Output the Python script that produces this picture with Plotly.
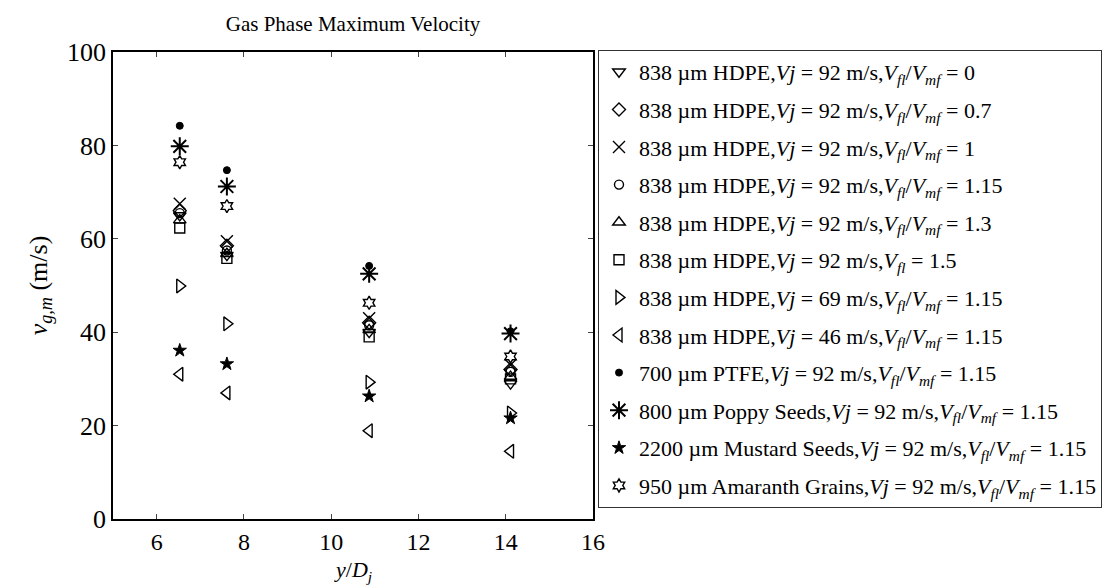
import plotly.graph_objects as go

x_pos = [6.53, 7.61, 10.87, 14.11]

names = [
    "838 µm HDPE,<i>Vj</i> = 92 m/s,<i>V<sub>fl</sub></i>/<i>V<sub>mf</sub></i> = 0",
    "838 µm HDPE,<i>Vj</i> = 92 m/s,<i>V<sub>fl</sub></i>/<i>V<sub>mf</sub></i> = 0.7",
    "838 µm HDPE,<i>Vj</i> = 92 m/s,<i>V<sub>fl</sub></i>/<i>V<sub>mf</sub></i> = 1",
    "838 µm HDPE,<i>Vj</i> = 92 m/s,<i>V<sub>fl</sub></i>/<i>V<sub>mf</sub></i> = 1.15",
    "838 µm HDPE,<i>Vj</i> = 92 m/s,<i>V<sub>fl</sub></i>/<i>V<sub>mf</sub></i> = 1.3",
    "838 µm HDPE,<i>Vj</i> = 92 m/s,<i>V<sub>fl</sub></i> = 1.5",
    "838 µm HDPE,<i>Vj</i> = 69 m/s,<i>V<sub>fl</sub></i>/<i>V<sub>mf</sub></i> = 1.15",
    "838 µm HDPE,<i>Vj</i> = 46 m/s,<i>V<sub>fl</sub></i>/<i>V<sub>mf</sub></i> = 1.15",
    "700 µm PTFE,<i>Vj</i> = 92 m/s,<i>V<sub>fl</sub></i>/<i>V<sub>mf</sub></i> = 1.15",
    "800 µm Poppy Seeds,<i>Vj</i> = 92 m/s,<i>V<sub>fl</sub></i>/<i>V<sub>mf</sub></i> = 1.15",
    "2200 µm Mustard Seeds,<i>Vj</i> = 92 m/s,<i>V<sub>fl</sub></i>/<i>V<sub>mf</sub></i> = 1.15",
    "950 µm Amaranth Grains,<i>Vj</i> = 92 m/s,<i>V<sub>fl</sub></i>/<i>V<sub>mf</sub></i> = 1.15",
]

hdpe92_0 = [65.0, 56.5, 40.0, 29.0]
hdpe92_07 = [66.0, 58.5, 42.0, 32.0]
hdpe92_1 = [67.5, 59.5, 43.0, 33.0]
hdpe92_115 = [65.5, 57.5, 41.5, 31.5]
hdpe92_13 = [64.0, 56.8, 40.5, 30.5]
hdpe92_15 = [62.3, 55.8, 39.0, 30.0]
hdpe69_115 = [49.9, 41.8, 29.3, 22.7]
hdpe46_115 = [31.0, 27.0, 18.9, 14.5]
ptfe = [84.2, 74.7, 54.2, 40.2]
poppy = [79.8, 71.2, 52.5, 39.7]
mustard = [36.1, 33.2, 26.3, 21.6]
amaranth = [76.4, 67.0, 46.3, 34.8]

series = [hdpe92_0, hdpe92_07, hdpe92_1, hdpe92_115, hdpe92_13, hdpe92_15,
          hdpe69_115, hdpe46_115, ptfe, poppy, mustard, amaranth]

symbols = ["triangle-down-open", "diamond-open", "x-thin-open", "circle-open",
           "triangle-up-open", "square-open", "triangle-right-open", "triangle-left-open",
           "circle", "asterisk-open", "star", "hexagram-open"]
sizes = [11, 10, 12, 9, 11, 10, 12, 12, 7, 15, 10, 10]
widths = [1.4, 1.4, 1.4, 1.4, 1.4, 1.4, 1.4, 1.4, 1.0, 2.0, 1.0, 1.4]

fig = go.Figure()
for i, (nm, ys) in enumerate(zip(names, series)):
    fig.add_trace(go.Scatter(
        x=x_pos, y=ys, mode="markers", name=nm, legendgroup=str(i),
        marker=dict(symbol=symbols[i], size=sizes[i], color="black",
                    line=dict(color="black", width=widths[i])),
    ))

font_family = "Liberation Serif, Times New Roman, serif"

fig.update_layout(
    width=1111, height=588,
    paper_bgcolor="white", plot_bgcolor="white",
    margin=dict(l=105, r=526, t=44, b=77),
    font=dict(family=font_family, color="black"),
    title=dict(text="Gas Phase Maximum Velocity", x=345 / 1111, xanchor="center",
               y=1 - 16 / 588, yanchor="middle", font=dict(size=21, family=font_family)),
    showlegend=True,
    legend=dict(x=(590 - 105) / 480, xanchor="left", y=(511 - 42) / 467, yanchor="top",
                bordercolor="#333333", borderwidth=1, bgcolor="white",
                font=dict(size=22, family=font_family), tracegroupgap=6,
                itemwidth=30, maxheight=560),
    annotations=[dict(text="<i>y</i>/<i>D<sub>j</sub></i>", xref="paper", yref="paper",
                      x=0.5, y=(511 - 547) / 467, xanchor="center", yanchor="top",
                      showarrow=False, font=dict(size=22, family=font_family))],
)

fig.update_xaxes(range=[5, 16], tickvals=[6, 8, 10, 12, 14, 16], ticks="inside", ticklen=5,
                 showline=True, linecolor="black", linewidth=1.5, mirror="ticks",
                 showgrid=False, zeroline=False, tickfont=dict(size=24, family=font_family))
fig.update_yaxes(range=[0, 100], tickvals=[0, 20, 40, 60, 80, 100], ticks="inside", ticklen=5,
                 showline=True, linecolor="black", linewidth=1.5, mirror="ticks",
                 showgrid=False, zeroline=False, tickfont=dict(size=26, family=font_family),
                 title=dict(text="<i>v<sub>g,m</sub></i> (m/s)", font=dict(size=26, family=font_family),
                            standoff=12))

fig.write_html("out.html")
